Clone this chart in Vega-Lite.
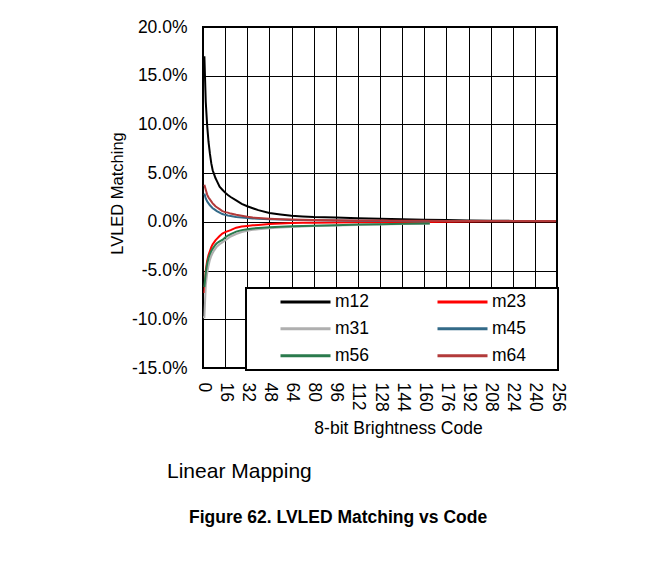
{
  "$schema": "https://vega.github.io/schema/vega-lite/v6.json",
  "autosize": "none",
  "width": 354,
  "height": 341,
  "padding": {"left": 203, "top": 27, "right": 114, "bottom": 199},
  "background": "white",
  "config": {
    "font": "Liberation Sans",
    "view": {"stroke": "black", "strokeWidth": 2},
    "axis": {"gridColor": "#000000", "gridWidth": 1, "gridOpacity": 1, "domain": false, "ticks": false, "labelColor": "black", "titleColor": "black", "labelFont": "Liberation Sans", "titleFont": "Liberation Sans", "titleFontWeight": "normal"},
    "legend": {"strokeWidth": 2},
    "title": {"font": "Liberation Sans", "subtitleFont": "Liberation Sans"}
  },
  "title": {
    "text": "Linear Mapping",
    "subtitle": "Figure 62. LVLED Matching vs Code",
    "orient": "bottom",
    "anchor": "start",
    "frame": "group",
    "dx": -36,
    "offset": 24,
    "fontSize": 21,
    "fontWeight": "normal",
    "color": "black",
    "subtitleFontSize": 17.5,
    "subtitleFontWeight": "bold",
    "subtitleColor": "black",
    "subtitlePadding": 27,
    "encode": {"subtitle": {"update": {"dx": {"value": -14}}}}
  },
  "data": {"values": [
    {"code":1,"series":"m12","value":0.17},{"code":2,"series":"m12","value":0.123},{"code":3,"series":"m12","value":0.099},{"code":4,"series":"m12","value":0.082},{"code":5,"series":"m12","value":0.07},{"code":6,"series":"m12","value":0.06},{"code":7,"series":"m12","value":0.053},{"code":8,"series":"m12","value":0.049},{"code":9,"series":"m12","value":0.045},{"code":10,"series":"m12","value":0.042},{"code":12,"series":"m12","value":0.036},{"code":14,"series":"m12","value":0.033},{"code":16,"series":"m12","value":0.03},{"code":18,"series":"m12","value":0.0275},{"code":20,"series":"m12","value":0.0255},{"code":24,"series":"m12","value":0.022},{"code":28,"series":"m12","value":0.0185},{"code":32,"series":"m12","value":0.016},{"code":36,"series":"m12","value":0.014},{"code":40,"series":"m12","value":0.012},{"code":48,"series":"m12","value":0.009},{"code":56,"series":"m12","value":0.0075},{"code":64,"series":"m12","value":0.0062},{"code":72,"series":"m12","value":0.0056},{"code":80,"series":"m12","value":0.005},{"code":96,"series":"m12","value":0.0044},{"code":112,"series":"m12","value":0.0038},{"code":128,"series":"m12","value":0.0032},{"code":144,"series":"m12","value":0.0027},{"code":160,"series":"m12","value":0.0022},{"code":176,"series":"m12","value":0.0018},{"code":192,"series":"m12","value":0.0015},{"code":208,"series":"m12","value":0.0012},{"code":224,"series":"m12","value":0.001},{"code":240,"series":"m12","value":0.0008},{"code":255,"series":"m12","value":0.0007},
    {"code":1,"series":"m23","value":-0.073},{"code":2,"series":"m23","value":-0.05},{"code":3,"series":"m23","value":-0.04},{"code":4,"series":"m23","value":-0.034},{"code":5,"series":"m23","value":-0.03},{"code":6,"series":"m23","value":-0.026},{"code":7,"series":"m23","value":-0.023},{"code":8,"series":"m23","value":-0.021},{"code":9,"series":"m23","value":-0.019},{"code":10,"series":"m23","value":-0.0175},{"code":12,"series":"m23","value":-0.0145},{"code":14,"series":"m23","value":-0.012},{"code":16,"series":"m23","value":-0.0105},{"code":18,"series":"m23","value":-0.0095},{"code":20,"series":"m23","value":-0.0085},{"code":24,"series":"m23","value":-0.006},{"code":28,"series":"m23","value":-0.0048},{"code":32,"series":"m23","value":-0.0042},{"code":36,"series":"m23","value":-0.0036},{"code":40,"series":"m23","value":-0.0032},{"code":48,"series":"m23","value":-0.0022},{"code":56,"series":"m23","value":-0.0016},{"code":64,"series":"m23","value":-0.0012},{"code":72,"series":"m23","value":-0.001},{"code":80,"series":"m23","value":-0.0008},{"code":96,"series":"m23","value":-0.0006},{"code":112,"series":"m23","value":-0.0005},{"code":128,"series":"m23","value":-0.0004},{"code":144,"series":"m23","value":-0.0003},{"code":160,"series":"m23","value":-0.0002},{"code":176,"series":"m23","value":0.0002},{"code":192,"series":"m23","value":0.0004},{"code":208,"series":"m23","value":0.0005},{"code":224,"series":"m23","value":0.0006},{"code":240,"series":"m23","value":0.0006},{"code":255,"series":"m23","value":0.0006},
    {"code":0,"series":"m31","value":-0.098},{"code":1,"series":"m31","value":-0.098},{"code":2,"series":"m31","value":-0.065},{"code":3,"series":"m31","value":-0.053},{"code":4,"series":"m31","value":-0.045},{"code":5,"series":"m31","value":-0.039},{"code":6,"series":"m31","value":-0.035},{"code":7,"series":"m31","value":-0.032},{"code":8,"series":"m31","value":-0.0295},{"code":9,"series":"m31","value":-0.0275},{"code":10,"series":"m31","value":-0.0255},{"code":12,"series":"m31","value":-0.023},{"code":14,"series":"m31","value":-0.021},{"code":16,"series":"m31","value":-0.019},{"code":18,"series":"m31","value":-0.017},{"code":20,"series":"m31","value":-0.015},{"code":24,"series":"m31","value":-0.0125},{"code":28,"series":"m31","value":-0.0105},{"code":32,"series":"m31","value":-0.0092},{"code":36,"series":"m31","value":-0.0082},{"code":40,"series":"m31","value":-0.0075},{"code":48,"series":"m31","value":-0.0065},{"code":56,"series":"m31","value":-0.0058},{"code":64,"series":"m31","value":-0.0052},{"code":72,"series":"m31","value":-0.0047},{"code":80,"series":"m31","value":-0.0043},{"code":96,"series":"m31","value":-0.0037},{"code":112,"series":"m31","value":-0.0031},{"code":128,"series":"m31","value":-0.0026},{"code":144,"series":"m31","value":-0.0022},{"code":160,"series":"m31","value":-0.0019},{"code":164,"series":"m31","value":-0.0018},
    {"code":1,"series":"m45","value":0.029},{"code":2,"series":"m45","value":0.024},{"code":3,"series":"m45","value":0.021},{"code":4,"series":"m45","value":0.019},{"code":5,"series":"m45","value":0.017},{"code":6,"series":"m45","value":0.0155},{"code":7,"series":"m45","value":0.014},{"code":8,"series":"m45","value":0.013},{"code":9,"series":"m45","value":0.012},{"code":10,"series":"m45","value":0.011},{"code":12,"series":"m45","value":0.0095},{"code":14,"series":"m45","value":0.008},{"code":16,"series":"m45","value":0.0072},{"code":18,"series":"m45","value":0.0065},{"code":20,"series":"m45","value":0.006},{"code":24,"series":"m45","value":0.005},{"code":28,"series":"m45","value":0.0045},{"code":32,"series":"m45","value":0.004},{"code":36,"series":"m45","value":0.0035},{"code":40,"series":"m45","value":0.0032},{"code":48,"series":"m45","value":0.0027},{"code":56,"series":"m45","value":0.0023},{"code":64,"series":"m45","value":0.002},{"code":72,"series":"m45","value":0.0018},{"code":80,"series":"m45","value":0.0016},{"code":96,"series":"m45","value":0.0013},{"code":112,"series":"m45","value":0.0011},{"code":128,"series":"m45","value":0.0009},{"code":144,"series":"m45","value":0.0008},{"code":160,"series":"m45","value":0.0007},{"code":164,"series":"m45","value":0.0007},
    {"code":1,"series":"m56","value":-0.067},{"code":2,"series":"m56","value":-0.052},{"code":3,"series":"m56","value":-0.043},{"code":4,"series":"m56","value":-0.037},{"code":5,"series":"m56","value":-0.033},{"code":6,"series":"m56","value":-0.03},{"code":7,"series":"m56","value":-0.0275},{"code":8,"series":"m56","value":-0.0255},{"code":9,"series":"m56","value":-0.0235},{"code":10,"series":"m56","value":-0.022},{"code":12,"series":"m56","value":-0.02},{"code":14,"series":"m56","value":-0.0185},{"code":16,"series":"m56","value":-0.016},{"code":18,"series":"m56","value":-0.014},{"code":20,"series":"m56","value":-0.0125},{"code":24,"series":"m56","value":-0.01},{"code":28,"series":"m56","value":-0.0085},{"code":32,"series":"m56","value":-0.0075},{"code":36,"series":"m56","value":-0.0068},{"code":40,"series":"m56","value":-0.0062},{"code":48,"series":"m56","value":-0.0055},{"code":56,"series":"m56","value":-0.005},{"code":64,"series":"m56","value":-0.0046},{"code":72,"series":"m56","value":-0.0042},{"code":80,"series":"m56","value":-0.0039},{"code":96,"series":"m56","value":-0.0034},{"code":112,"series":"m56","value":-0.0028},{"code":128,"series":"m56","value":-0.0024},{"code":144,"series":"m56","value":-0.002},{"code":160,"series":"m56","value":-0.0017},{"code":164,"series":"m56","value":-0.0016},
    {"code":1,"series":"m64","value":0.038},{"code":2,"series":"m64","value":0.033},{"code":3,"series":"m64","value":0.028},{"code":4,"series":"m64","value":0.025},{"code":5,"series":"m64","value":0.023},{"code":6,"series":"m64","value":0.021},{"code":7,"series":"m64","value":0.019},{"code":8,"series":"m64","value":0.0175},{"code":9,"series":"m64","value":0.016},{"code":10,"series":"m64","value":0.015},{"code":12,"series":"m64","value":0.013},{"code":14,"series":"m64","value":0.011},{"code":16,"series":"m64","value":0.01},{"code":18,"series":"m64","value":0.0095},{"code":20,"series":"m64","value":0.0085},{"code":24,"series":"m64","value":0.0072},{"code":28,"series":"m64","value":0.0062},{"code":32,"series":"m64","value":0.0052},{"code":36,"series":"m64","value":0.0044},{"code":40,"series":"m64","value":0.004},{"code":48,"series":"m64","value":0.0033},{"code":56,"series":"m64","value":0.0028},{"code":64,"series":"m64","value":0.0025},{"code":72,"series":"m64","value":0.0022},{"code":80,"series":"m64","value":0.002},{"code":96,"series":"m64","value":0.0017},{"code":112,"series":"m64","value":0.0015},{"code":128,"series":"m64","value":0.0013},{"code":144,"series":"m64","value":0.0012},{"code":160,"series":"m64","value":0.0011},{"code":176,"series":"m64","value":0.001},{"code":192,"series":"m64","value":0.001},{"code":208,"series":"m64","value":0.001},{"code":224,"series":"m64","value":0.001},{"code":240,"series":"m64","value":0.001},{"code":255,"series":"m64","value":0.001}
  ]},
  "mark": {"type": "line", "strokeWidth": 2, "clip": true},
  "encoding": {
    "x": {
      "field": "code", "type": "quantitative",
      "scale": {"domain": [0, 256], "nice": false, "zero": true},
      "axis": {
        "title": "8-bit Brightness Code",
        "values": [0,16,32,48,64,80,96,112,128,144,160,176,192,208,224,240,256],
        "labelAngle": 90, "labelFontSize": 17.5, "labelPadding": 14,
        "labelOverlap": false, "labelFlush": false,
        "titleFontSize": 17.5, "titleX": 195, "titleY": 65, "titleBaseline": "alphabetic", "titleAlign": "center"
      }
    },
    "y": {
      "field": "value", "type": "quantitative",
      "scale": {"domain": [-0.15, 0.2], "nice": false, "zero": false},
      "axis": {
        "title": "LVLED Matching",
        "values": [-0.15,-0.1,-0.05,0,0.05,0.1,0.15,0.2],
        "labelExpr": "replace(format(datum.value, '.1%'), '\u2212', '-')",
        "labelFontSize": 17.5, "labelPadding": 16, "labelOverlap": false, "labelFlush": false,
        "titleFontSize": 16.5, "titleX": -86, "titleY": 166, "titleAngle": -90, "titleAlign": "center", "titleBaseline": "middle"
      }
    },
    "color": {
      "field": "series", "type": "nominal",
      "scale": {"domain": ["m12","m23","m31","m45","m56","m64"], "range": ["#000000","#FF0000","#AFAFAF","#336A88","#2A7A4C","#B23A3A"]},
      "legend": {
        "title": null, "orient": "none", "legendX": 43, "legendY": 261, "columns": 2, "direction": "horizontal",
        "symbolType": "stroke", "symbolSize": 2500, "symbolStrokeWidth": 3, "clipHeight": 17.5,
        "symbolOffset": 28, "labelOffset": 3,
        "labelExpr": "datum.label + '\u2800\u2800'",
        "labelFontSize": 17.5, "labelFont": "Liberation Sans", "labelColor": "black",
        "columnPadding": 12, "rowPadding": 8, "padding": 5,
        "strokeColor": "black", "fillColor": "white"
      }
    }
  }
}
